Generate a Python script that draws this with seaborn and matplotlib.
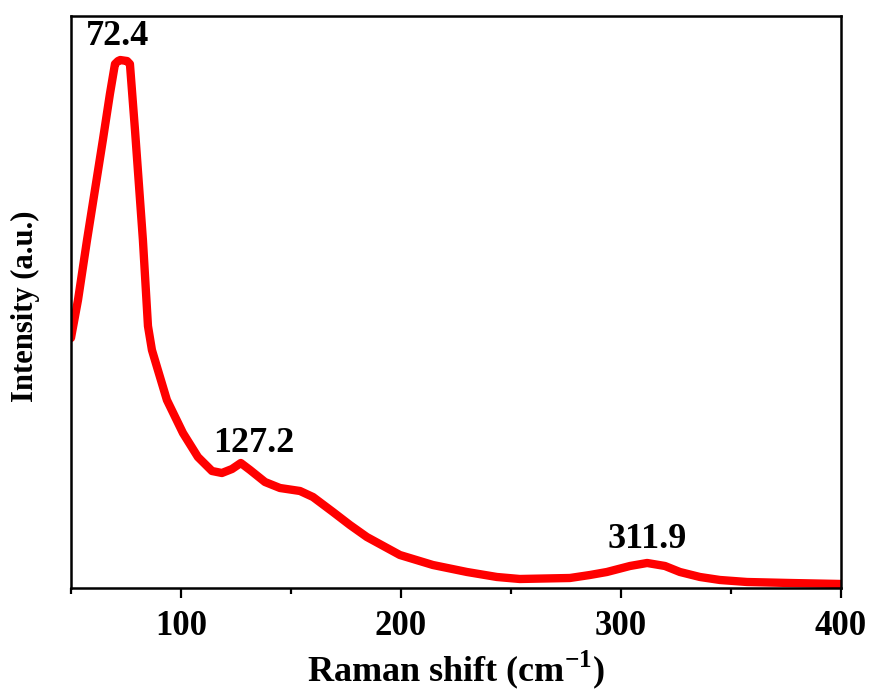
import matplotlib
matplotlib.use("Agg")
import matplotlib.pyplot as plt
from matplotlib.ticker import FixedLocator, MultipleLocator, NullLocator
import seaborn as sns
import pandas as pd

# Raman spectrum (cm^-1 vs arbitrary intensity)
raman_shift = [50, 53.2, 57.3, 60.9, 64.5, 67.7, 70, 71.4, 72.4, 75.5, 76.8, 79.1,
               82.7, 85, 86.8, 89.1, 93.6, 100.9, 107.7, 114.1, 118.6, 123.2, 127.2,
               131.4, 138.2, 145, 154.1, 160, 169.1, 176.8, 184.5, 199.5, 214.5,
               230, 243.6, 254, 276.8, 285.9, 293.6, 304.1, 311.9, 320, 326.8,
               335.9, 345, 357.3, 376.8, 400]
intensity = [250, 288, 348, 398, 448, 494, 524, 527, 528, 527, 524, 458,
             348, 262, 238, 221, 188, 155, 131, 117, 115, 119, 125,
             118, 106, 100, 97, 91, 76, 63, 51, 33, 23,
             16, 11, 9, 10, 13, 16, 22, 25, 22, 16,
             11, 8, 6, 5, 4]

peak_labels = ["72.4", "127.2", "311.9"]
peak_x = [72.4, 127.2, 311.9]
peak_y = [528, 125, 25]

x_ticks = [100, 200, 300, 400]

sns.set_style("ticks")
plt.rcParams["font.family"] = ["Liberation Serif", "DejaVu Serif"]
plt.rcParams["font.weight"] = "bold"
plt.rcParams["text.color"] = "black"
plt.rcParams["axes.labelcolor"] = "black"
plt.rcParams["xtick.color"] = "black"
plt.rcParams["mathtext.fontset"] = "custom"
plt.rcParams["mathtext.rm"] = "Liberation Serif:bold"
plt.rcParams["mathtext.bf"] = "Liberation Serif:bold"

fig = plt.figure(figsize=(8.74, 6.97), dpi=100)
ax = fig.add_axes([0.0812, 0.1564, 0.881, 0.8206])

df = pd.DataFrame({"shift": raman_shift, "intensity": intensity})
sns.lineplot(data=df, x="shift", y="intensity", ax=ax, color="#ff0000",
             linewidth=6, solid_capstyle="round", solid_joinstyle="round")

# label offsets in points (dx, dy) above each peak
offsets = [(-2, 11), (9, 8), (0, 11)]
for lab, px, py, off in zip(peak_labels, peak_x, peak_y, offsets):
    ax.annotate(lab, (px, py), xytext=off, textcoords="offset points",
                ha="center", va="baseline", fontsize=26, fontweight="bold")

ax.set_xlim(50, 400)
ax.set_ylim(0, 572)
ax.xaxis.set_major_locator(FixedLocator(x_ticks))
ax.xaxis.set_minor_locator(MultipleLocator(50))
ax.yaxis.set_major_locator(NullLocator())

for side in ["left", "right", "top", "bottom"]:
    ax.spines[side].set_visible(True)
    ax.spines[side].set_linewidth(1.8)
    ax.spines[side].set_color("black")

ax.tick_params(axis="x", which="major", direction="out", length=7, width=1.6,
               labelsize=25, pad=8.5, colors="black")
ax.tick_params(axis="x", which="minor", direction="out", length=4, width=1.6)
for t in ax.get_xticklabels():
    t.set_fontweight("bold")

ax.set_xlabel(r"Raman shift (cm$^{-1}$)", fontsize=26, fontweight="bold", labelpad=4.5)
ax.set_ylabel("Intensity (a.u.)", fontsize=22, fontweight="bold")
ax.yaxis.set_label_coords(-0.040, 0.493)

fig.savefig("out.png", dpi=100)
